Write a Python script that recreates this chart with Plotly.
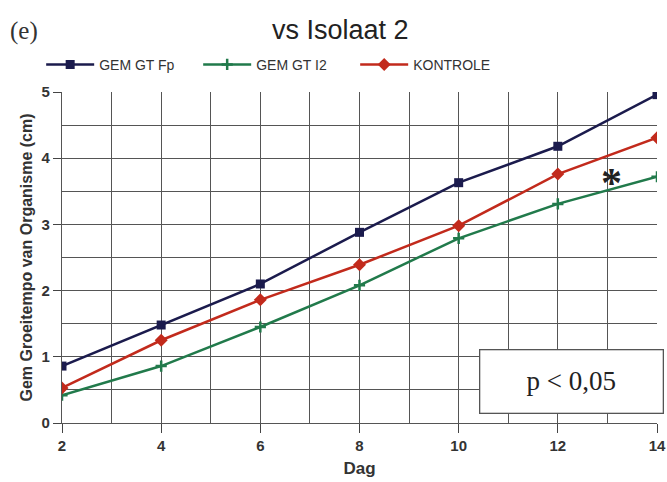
import plotly.graph_objects as go

days = [2, 4, 6, 8, 10, 12, 14]
gem_gt_fp = [0.86, 1.48, 2.10, 2.88, 3.63, 4.18, 4.96]
gem_gt_i2 = [0.42, 0.86, 1.45, 2.08, 2.79, 3.31, 3.72]
kontrole = [0.53, 1.25, 1.86, 2.39, 2.98, 3.76, 4.31]
series_names = ["GEM GT Fp", "GEM GT I2", "KONTROLE"]

fig = go.Figure()
fig.add_trace(go.Scatter(x=days, y=gem_gt_fp, name=series_names[0], mode="lines+markers",
                         line=dict(color="#1b1b4d", width=2.5),
                         marker=dict(symbol="square", size=9, color="#1b1b4d")))
fig.add_trace(go.Scatter(x=days, y=gem_gt_i2, name=series_names[1], mode="lines+markers",
                         line=dict(color="#217a4b", width=2.5),
                         marker=dict(symbol="cross-thin", size=8, color="#217a4b",
                                     line=dict(width=2.5, color="#217a4b"))))
fig.add_trace(go.Scatter(x=days, y=kontrole, name=series_names[2], mode="lines+markers",
                         line=dict(color="#c22a1c", width=2.5),
                         marker=dict(symbol="diamond", size=10, color="#c22a1c")))

fig.update_layout(
    width=667, height=482,
    margin=dict(l=62, r=10, t=92, b=59, autoexpand=False),
    paper_bgcolor="white", plot_bgcolor="white",
    font=dict(family="Liberation Sans, Arial", color="#222"),
    title=dict(text="vs Isolaat 2", x=0.51, xanchor="center", y=0.938, yanchor="middle",
               font=dict(size=27, color="#222", family="Liberation Sans, Arial")),
    legend=dict(orientation="h", x=-0.035, y=1.082, xanchor="left", yanchor="middle",
                font=dict(size=14, color="#333"), itemwidth=48, entrywidth=94, entrywidthmode="pixels",
                bgcolor="rgba(0,0,0,0)"),
    showlegend=True,
)
fig.update_xaxes(range=[2, 14], tickvals=days, ticks="outside", ticklen=9, tickcolor="#444",
                 showgrid=True, gridcolor="#555", gridwidth=1.3,
                 minor=dict(dtick=1, showgrid=True, gridcolor="#555", gridwidth=1.3),
                 showline=True, linecolor="#555", linewidth=1.3, zeroline=False, automargin=False,
                 tickfont=dict(size=15, color="#333", weight="bold"),
                 title=dict(text="Dag", font=dict(size=17, color="#333", weight="bold"), standoff=8))
fig.update_yaxes(range=[0, 5], dtick=1, ticks="outside", ticklen=8, tickcolor="#444",
                 showgrid=True, gridcolor="#555", gridwidth=1.3,
                 minor=dict(dtick=0.5, showgrid=True, gridcolor="#555", gridwidth=1.3),
                 showline=True, linecolor="#555", linewidth=1.3, zeroline=False, automargin=False,
                 tickfont=dict(size=15, color="#333", weight="bold"),
                 title=dict(text="Gem Groeitempo van Organisme (cm)",
                            font=dict(size=16, color="#333", weight="bold"), standoff=4))

fig.add_annotation(text="(e)", xref="paper", yref="paper", x=-0.091, y=1.184, xanchor="left", yanchor="middle",
                   showarrow=False, font=dict(size=25, family="Liberation Serif, Times New Roman", color="#333"))
fig.add_annotation(text="<b>*</b>", x=13.08, y=3.62, showarrow=False,
                   font=dict(size=42, family="Liberation Serif", color="#222"))
fig.add_annotation(text="p < 0,05", xref="paper", yref="paper", x=0.857, y=0.124,
                   xanchor="center", yanchor="middle", showarrow=False,
                   font=dict(size=27, family="Liberation Serif, Times New Roman", color="#222"),
                   bgcolor="white", bordercolor="#555", borderwidth=1.3, borderpad=0, width=182, height=62)

fig.write_html("out.html")
